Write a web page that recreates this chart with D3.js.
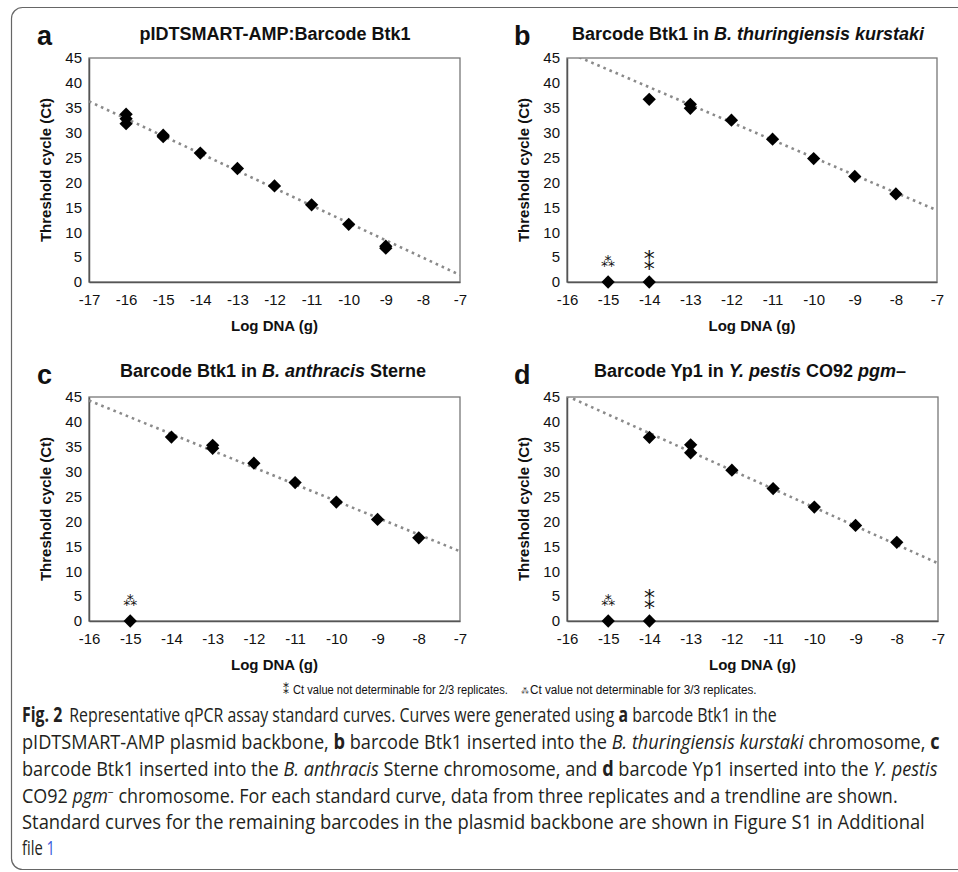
<!DOCTYPE html>
<html><head><meta charset="utf-8">
<script src="https://cdn.jsdelivr.net/npm/d3@7"></script>
<style>
body{margin:0;background:#fff;}
svg{display:block;}
</style></head>
<body>
<script>
// ---------- data ----------
const panelLetters = ["a","b","c","d"];
const titleA = [["pIDTSMART-AMP:Barcode Btk1","normal"]];
const titleB = [["Barcode Btk1 in ","normal"],["B. thuringiensis kurstaki","italic"]];
const titleC = [["Barcode Btk1 in ","normal"],["B. anthracis","italic"],[" Sterne","normal"]];
const titleD = [["Barcode Yp1 in ","normal"],["Y. pestis","italic"],[" CO92 ","normal"],["pgm","italic"],["–","normal"]];

const yTicks = [0,5,10,15,20,25,30,35,40,45];
const xTicksA = [-17,-16,-15,-14,-13,-12,-11,-10,-9,-8,-7];
const xTicksBCD = [-16,-15,-14,-13,-12,-11,-10,-9,-8,-7];

const ptsAx = [-16,-16,-16,-15,-15,-14,-13,-12,-11,-10,-9,-9];
const ptsAy = [33.7,32.8,31.8,29.2,29.5,25.9,22.8,19.3,15.5,11.6,6.8,7.2];
const ptsBx = [-15,-14,-14,-13,-13,-12,-11,-10,-9,-8];
const ptsBy = [0,0,36.7,35.7,34.9,32.5,28.7,24.8,21.2,17.7];
const ptsCx = [-15,-14,-13,-13,-12,-11,-10,-9,-8];
const ptsCy = [0,36.95,35.3,34.7,31.7,27.8,23.9,20.4,16.7];
const ptsDx = [-15,-14,-14,-13,-13,-12,-11,-10,-9,-8];
const ptsDy = [0,0,36.9,35.4,33.8,30.3,26.6,22.9,19.2,15.8];

// trendline values at the two ends of the x domain
const trendA = [36.3,1.4];
const trendB = [46.2,14.4];
const trendC = [44.3,14.0];
const trendD = [45.2,11.6];

// not-determinable annotations (x positions)
const nd3of3B = [-15], nd2of3B = [-14];
const nd3of3C = [-15], nd2of3C = [];
const nd3of3D = [-15], nd2of3D = [-14];

const yTitle = "Threshold cycle (Ct)";
const xTitle = "Log DNA (g)";
const legend2 = "Ct value not determinable for 2/3 replicates.";
const legend3 = "Ct value not determinable for 3/3 replicates.";

// ---------- layout ----------
const W = 958, H = 872;
const panels = [
  {letter:"a", title:titleA, xt:xTicksA, px:ptsAx, py:ptsAy, trend:trendA, n3:[], n2:[],
   x0:89, x1:460, y0:58, y1:282, tx:275, ty:40, lx:37, ly:45},
  {letter:"b", title:titleB, xt:xTicksBCD, px:ptsBx, py:ptsBy, trend:trendB, n3:nd3of3B, n2:nd2of3B,
   x0:567, x1:937, y0:58, y1:282, tx:748, ty:40, lx:514, ly:45},
  {letter:"c", title:titleC, xt:xTicksBCD, px:ptsCx, py:ptsCy, trend:trendC, n3:nd3of3C, n2:nd2of3C,
   x0:89, x1:460, y0:397, y1:621, tx:273, ty:377, lx:37, ly:384},
  {letter:"d", title:titleD, xt:xTicksBCD, px:ptsDx, py:ptsDy, trend:trendD, n3:nd3of3D, n2:nd2of3D,
   x0:567, x1:938, y0:397, y1:621, tx:750, ty:377, lx:514, ly:384}
];

const svg = d3.select("body").append("svg").attr("width",W).attr("height",H);
svg.append("rect").attr("width",W).attr("height",H).attr("fill","#fff");
svg.append("rect").attr("x",11.5).attr("y",7.5).attr("width",990).attr("height",862)
  .attr("rx",11).attr("fill","none").attr("stroke","#666").attr("stroke-width",1.2);

const F = "'Liberation Sans', Arial, sans-serif";
const SYM = "'DejaVu Sans', sans-serif";
const defs = svg.append("defs");

panels.forEach((p,i)=>{
  const x = d3.scaleLinear().domain([p.xt[0], p.xt[p.xt.length-1]]).range([p.x0,p.x1]);
  const y = d3.scaleLinear().domain([0,45]).range([p.y1,p.y0]);
  const g = svg.append("g");

  defs.append("clipPath").attr("id","clip"+i).append("rect")
    .attr("x",p.x0).attr("y",p.y0).attr("width",p.x1-p.x0).attr("height",p.y1-p.y0);

  g.append("rect").attr("x",p.x0).attr("y",p.y0).attr("width",p.x1-p.x0).attr("height",p.y1-p.y0)
    .attr("fill","none").attr("stroke","#777").attr("stroke-width",1.3);

  const ya = g.append("g").attr("transform",`translate(${p.x0},0)`)
    .call(d3.axisLeft(y).tickValues(yTicks).tickSize(0).tickPadding(7));
  ya.select(".domain").attr("stroke","#555").attr("stroke-width",1.5);
  ya.selectAll("text").attr("font-family",F).attr("font-size",15).attr("fill","#111");

  const xa = g.append("g").attr("transform",`translate(0,${p.y1})`)
    .call(d3.axisBottom(x).tickValues(p.xt).tickSize(0).tickPadding(12));
  xa.select(".domain").attr("stroke","#555").attr("stroke-width",1.5);
  xa.selectAll("text").attr("font-family",F).attr("font-size",15).attr("fill","#111")
    .text(d=>String(d));

  const xd = x.domain();
  g.append("line").attr("clip-path",`url(#clip${i})`)
    .attr("x1",x(xd[0])).attr("y1",y(p.trend[0]))
    .attr("x2",x(xd[1])).attr("y2",y(p.trend[1]))
    .attr("stroke","#8a8a8a").attr("stroke-width",2.6).attr("stroke-dasharray","2.6,4");

  const sym = d3.symbol().type(d3.symbolSquare).size(88);
  g.selectAll("path.pt").data(p.px.map((v,k)=>[v,p.py[k]])).enter().append("path")
    .attr("class","pt").attr("d",sym)
    .attr("transform",d=>`translate(${x(d[0])},${y(d[1])}) rotate(45)`)
    .attr("fill","#000");

  // 3/3 not determinable: asterism (one star over two)
  p.n3.forEach(v=>{
    g.append("text").attr("x",x(v)).attr("y",y(0)-15).attr("text-anchor","middle")
      .attr("font-family",SYM).attr("font-size",14).attr("fill","#111").text("⁂");
  });
  // 2/3 not determinable: two stacked stars
  p.n2.forEach(v=>{
    g.append("text").attr("x",x(v)).attr("y",y(0)-12).attr("text-anchor","middle")
      .attr("font-family",SYM).attr("font-size",22).attr("fill","#111").text("⁑");
  });

  const t = g.append("text").attr("x",p.tx).attr("y",p.ty).attr("text-anchor","middle")
    .attr("font-family",F).attr("font-size",18).attr("font-weight","bold").attr("fill","#111");
  p.title.forEach(s=>t.append("tspan").attr("font-style",s[1]).text(s[0]));

  g.append("text").attr("x",p.lx).attr("y",p.ly).attr("font-family",F).attr("font-size",27)
    .attr("font-weight","bold").attr("fill","#111").text(p.letter);

  g.append("text").attr("transform",`translate(${p.x0-38},${(p.y0+p.y1)/2}) rotate(-90)`)
    .attr("text-anchor","middle").attr("font-family",F).attr("font-size",15).attr("font-weight","bold")
    .attr("fill","#111").text(yTitle);
  g.append("text").attr("x",(p.x0+p.x1)/2).attr("y",p.y1+49).attr("text-anchor","middle")
    .attr("font-family",F).attr("font-size",15).attr("font-weight","bold").attr("fill","#111").text(xTitle);
});

// helper: squeeze a text horizontally to a target width, anchored at x0
function squeeze(t, x0, w){
  const nat = t.node().getComputedTextLength();
  if (w > 0 && nat > 0) {
    const s = w / nat;
    t.attr("transform", `translate(${x0},0) scale(${s},1) translate(${-x0},0)`);
  }
}

// legend line
svg.append("text").attr("x",283).attr("y",694).attr("font-family",SYM)
  .attr("font-size",12).attr("fill","#111").text("⁑");
const lg = svg.append("text").attr("x",293).attr("y",694).attr("font-family",F).attr("font-size",13.5)
  .attr("fill","#111").text(legend2);
squeeze(lg,293,215);
svg.append("text").attr("x",521).attr("y",694).attr("font-family",SYM)
  .attr("font-size",8).attr("fill","#111").text("⁂");
const lg2 = svg.append("text").attr("x",530).attr("y",694).attr("font-family",F).attr("font-size",13.5)
  .attr("fill","#111").text(legend3);
squeeze(lg2,530,227);

// caption
const CF = "'Open Sans', sans-serif";
const captionLines = [
  {y:722, w:748, segs:[["Fig. 2","b"],["Representative qPCR assay standard curves. Curves were generated using ","gap"],["a","b"],[" barcode Btk1 in the",""]]},
  {y:749, w:918, segs:[["pIDTSMART-AMP plasmid backbone, ",""],["b","b"],[" barcode Btk1 inserted into the ",""],["B. thuringiensis kurstaki","i"],[" chromosome, ",""],["c","b"]]},
  {y:776, w:916, segs:[["barcode Btk1 inserted into the ",""],["B. anthracis","i"],[" Sterne chromosome, and ",""],["d","b"],[" barcode Yp1 inserted into the ",""],["Y. pestis","i"]]},
  {y:803, w:876, segs:[["CO92 ",""],["pgm","i"],["−","sup"],[" chromosome. For each standard curve, data from three replicates and a trendline are shown.","after"]]},
  {y:829, w:903, segs:[["Standard curves for the remaining barcodes in the plasmid backbone are shown in Figure S1 in Additional",""]]},
  {y:855, w:33, segs:[["file ",""],["1","link"]]}
];
captionLines.forEach(l=>{
  const t = svg.append("text").attr("x",22).attr("y",l.y).attr("font-family",CF).attr("font-size",20.5)
    .attr("fill","#231f20");
  l.segs.forEach(s=>{
    const ts = t.append("tspan").text(s[0]);
    if(s[1]==="b") ts.attr("font-weight","bold");
    if(s[1]==="i") ts.attr("font-style","italic");
    if(s[1]==="gap") ts.attr("dx",9);
    if(s[1]==="link") ts.attr("fill","#3b5bdb");
    if(s[1]==="sup") ts.attr("font-size",12).attr("dy",-6);
    if(s[1]==="after") ts.attr("dy",6);
  });
  squeeze(t,22,l.w);
});
</script>
</body></html>
